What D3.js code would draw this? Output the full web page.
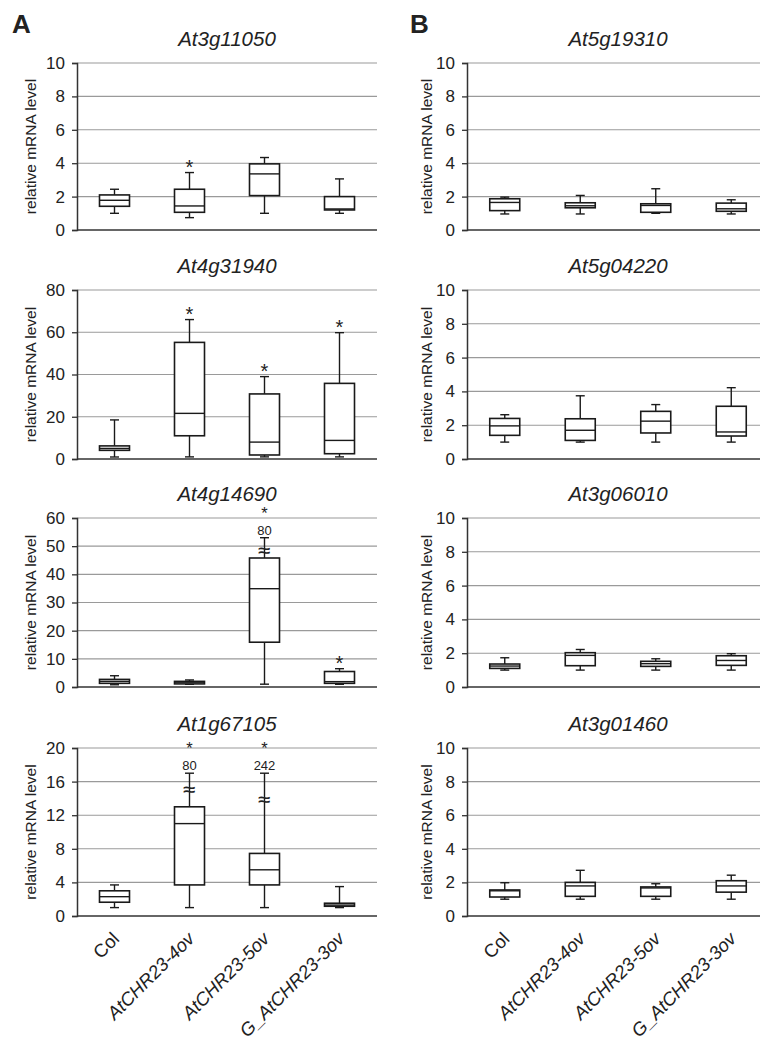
<!DOCTYPE html>
<html><head><meta charset="utf-8">
<script src="https://cdn.jsdelivr.net/npm/d3@7"></script>
<style>
body{margin:0;background:#fff;}
svg{display:block;}
text{font-family:"Liberation Sans",Arial,sans-serif;fill:#222;}
</style></head>
<body><svg id="c" width="760" height="1043"></svg>
<script>
// ---------- data ----------
const groups = ["Col", "AtCHR23-4ov", "AtCHR23-5ov", "G_AtCHR23-3ov"];
const genesA = ["At3g11050", "At4g31940", "At4g14690", "At1g67105"];
const genesB = ["At5g19310", "At5g04220", "At3g06010", "At3g01460"];

const ticks10 = [0, 2, 4, 6, 8, 10];
const ticks80 = [0, 20, 40, 60, 80];
const ticks60 = [0, 10, 20, 30, 40, 50, 60];
const ticks20 = [0, 4, 8, 12, 16, 20];

// [min, q1, median, q3, max] per group
const at3g11050 = [[1.0,1.42,1.78,2.1,2.44],[0.74,1.06,1.44,2.44,3.44],[1.0,2.06,3.36,3.96,4.34],[1.0,1.2,1.26,2.0,3.06]];
const at4g31940 = [[0.95,4.1,5.0,6.2,18.5],[1,11,21.6,55.2,66],[1,1.9,8,30.8,39],[1,2.5,8.8,35.8,59.8]];
const at4g14690 = [[0.8,1.3,2.0,2.7,4.0],[0.95,1.1,1.7,2.0,2.5],[1.0,15.9,34.9,45.8,53],[0.95,1.3,1.9,5.5,6.5]];
const at1g67105 = [[1.0,1.64,2.3,3.0,3.7],[1.0,3.7,11,13,17],[1.0,3.7,5.5,7.45,17],[1.0,1.16,1.3,1.52,3.5]];
const at5g19310 = [[0.96,1.16,1.65,1.87,1.97],[0.96,1.33,1.45,1.63,2.07],[1.0,1.06,1.47,1.57,2.47],[0.96,1.12,1.27,1.61,1.81]];
const at5g04220 = [[1.0,1.4,1.96,2.4,2.62],[1.0,1.1,1.7,2.38,3.74],[1.0,1.54,2.24,2.82,3.22],[1.0,1.36,1.6,3.12,4.22]];
const at3g06010 = [[1.0,1.1,1.24,1.36,1.73],[1.0,1.26,1.87,2.03,2.22],[1.0,1.22,1.38,1.52,1.67],[1.0,1.28,1.57,1.85,1.97]];
const at3g01460 = [[1.0,1.13,1.5,1.55,1.98],[1.0,1.17,1.79,2.0,2.72],[1.0,1.17,1.67,1.73,1.92],[1.0,1.42,1.79,2.1,2.43]];

// significance (1 = asterisk)
const starsA = [[0,1,0,0],[0,1,1,1],[0,0,1,1],[0,1,1,0]];
const starsB = [[0,0,0,0],[0,0,0,0],[0,0,0,0],[0,0,0,0]];
// broken whiskers: true maximum label and break position
const breakLabels4g14690 = [null, null, "80", null];
const breakAt4g14690 = [null, null, 48.4, null];
const breakLabels1g67105 = [null, "80", "242", null];
const breakAt1g67105 = [null, 15.1, 13.8, null];

// ---------- layout ----------
const svg = d3.select("#c");
const rowTop = [63, 290, 518, 748];
const rowBot = [230, 459, 687, 916];
const colLeft = [77, 467];
const colRight = [377, 769];
const ylabX = [32, 428];

const panels = [
  {gene: genesA[0], col: 0, row: 0, stats: at3g11050, ticks: ticks10, stars: starsA[0]},
  {gene: genesA[1], col: 0, row: 1, stats: at4g31940, ticks: ticks80, stars: starsA[1]},
  {gene: genesA[2], col: 0, row: 2, stats: at4g14690, ticks: ticks60, stars: starsA[2], bl: breakLabels4g14690, ba: breakAt4g14690},
  {gene: genesA[3], col: 0, row: 3, stats: at1g67105, ticks: ticks20, stars: starsA[3], bl: breakLabels1g67105, ba: breakAt1g67105},
  {gene: genesB[0], col: 1, row: 0, stats: at5g19310, ticks: ticks10, stars: starsB[0]},
  {gene: genesB[1], col: 1, row: 1, stats: at5g04220, ticks: ticks10, stars: starsB[1]},
  {gene: genesB[2], col: 1, row: 2, stats: at3g06010, ticks: ticks10, stars: starsB[2]},
  {gene: genesB[3], col: 1, row: 3, stats: at3g01460, ticks: ticks10, stars: starsB[3]},
];

const FONT = '"Liberation Sans",Arial,sans-serif';

svg.append("text").attr("x", 12).attr("y", 33).attr("font-size", 26).attr("font-weight", "bold").text("A");
svg.append("text").attr("x", 410).attr("y", 33).attr("font-size", 26).attr("font-weight", "bold").text("B");

panels.forEach(p => {
  const x0 = colLeft[p.col], x1 = colRight[p.col];
  const yT = rowTop[p.row], yB = rowBot[p.row];
  const x = d3.scaleBand().domain(groups).range([x0, x1]);
  const y = d3.scaleLinear().domain([0, d3.max(p.ticks)]).range([yB, yT]);
  const g = svg.append("g");

  // grid
  g.selectAll("line.grid").data(p.ticks.filter(t => t > 0)).join("line")
    .attr("x1", x0).attr("x2", x1).attr("y1", d => y(d)).attr("y2", d => y(d))
    .attr("stroke", "#9a9a9a").attr("stroke-width", 1.1);

  // y axis
  const ax = g.append("g").attr("transform", `translate(${x0},0)`)
    .call(d3.axisLeft(y).tickValues(p.ticks).tickSize(5).tickPadding(7).tickFormat(d3.format("d")));
  ax.select(".domain").attr("stroke", "#333").attr("stroke-width", 1.5);
  ax.selectAll(".tick line").attr("stroke", "#333").attr("stroke-width", 1.3);
  ax.selectAll(".tick text").attr("font-size", 17).attr("font-family", FONT).attr("fill", "#222");

  // x axis line
  g.append("line").attr("x1", x0).attr("x2", x1).attr("y1", y(0)).attr("y2", y(0))
    .attr("stroke", "#333").attr("stroke-width", 1.6);

  // title
  g.append("text").attr("x", (x0 + x1) / 2).attr("y", yT - 17).attr("text-anchor", "middle")
    .attr("font-size", 20.5).attr("font-style", "italic").text(p.gene);

  // y label
  g.append("text").attr("transform", `translate(${ylabX[p.col]},${(yT + yB) / 2}) rotate(-90)`)
    .attr("text-anchor", "middle").attr("dominant-baseline", "middle")
    .attr("font-size", 15.5).text("relative mRNA level");

  const bw = 30, cap = 9;
  const boxes = g.selectAll("g.box").data(p.stats.map((s, i) => ({s, i, grp: groups[i]}))).join("g");
  boxes.each(function(d) {
    const bg = d3.select(this);
    const cx = x(d.grp) + x.bandwidth() / 2;
    const [mn, q1, md, q3, mx] = d.s;
    const sty = sel => sel.attr("stroke", "#1a1a1a").attr("stroke-width", 1.4);
    sty(bg.append("line").attr("x1", cx).attr("x2", cx).attr("y1", y(mx)).attr("y2", y(q3)));
    sty(bg.append("line").attr("x1", cx).attr("x2", cx).attr("y1", y(q1)).attr("y2", y(mn)));
    sty(bg.append("line").attr("x1", cx - cap / 2).attr("x2", cx + cap / 2).attr("y1", y(mx)).attr("y2", y(mx)));
    sty(bg.append("line").attr("x1", cx - cap / 2).attr("x2", cx + cap / 2).attr("y1", y(mn)).attr("y2", y(mn)));
    bg.append("rect").attr("x", cx - bw / 2).attr("width", bw).attr("y", y(q3)).attr("height", Math.max(0.5, y(q1) - y(q3)))
      .attr("fill", "#fff").attr("stroke", "#1a1a1a").attr("stroke-width", 1.6);
    sty(bg.append("line").attr("x1", cx - bw / 2).attr("x2", cx + bw / 2).attr("y1", y(md)).attr("y2", y(md)));

    const topY = y(mx);
    const hasBreak = p.bl && p.bl[d.i];
    if (hasBreak) {
      const by = y(p.ba[d.i]);
      bg.append("text").attr("x", cx).attr("y", by).attr("text-anchor", "middle")
        .attr("dominant-baseline", "central").attr("font-size", 20).attr("font-weight", "bold")
        .attr("transform", `translate(${cx},${by}) scale(1.1,0.8) translate(${-cx},${-by})`)
        .text("≈");
      bg.append("text").attr("x", cx).attr("y", topY - 3).attr("text-anchor", "middle")
        .attr("font-size", 13).text(p.bl[d.i]);
    }
    if (p.stars[d.i]) {
      bg.append("text").attr("x", cx).attr("y", hasBreak ? topY - 19 : topY + 1)
        .attr("text-anchor", "middle").attr("font-size", hasBreak ? 16.5 : 20).text("*");
    }
  });

  // x tick labels on bottom row
  if (p.row === 3) {
    g.selectAll("text.xl").data(groups).join("text")
      .attr("transform", d => `translate(${x(d) + x.bandwidth() / 2 + 6},${yB + 24}) rotate(-45)`)
      .attr("text-anchor", "end").attr("font-size", 18.5)
      .attr("font-style", d => d === "Col" ? "normal" : "italic")
      .text(d => d);
  }
});
</script></body></html>
